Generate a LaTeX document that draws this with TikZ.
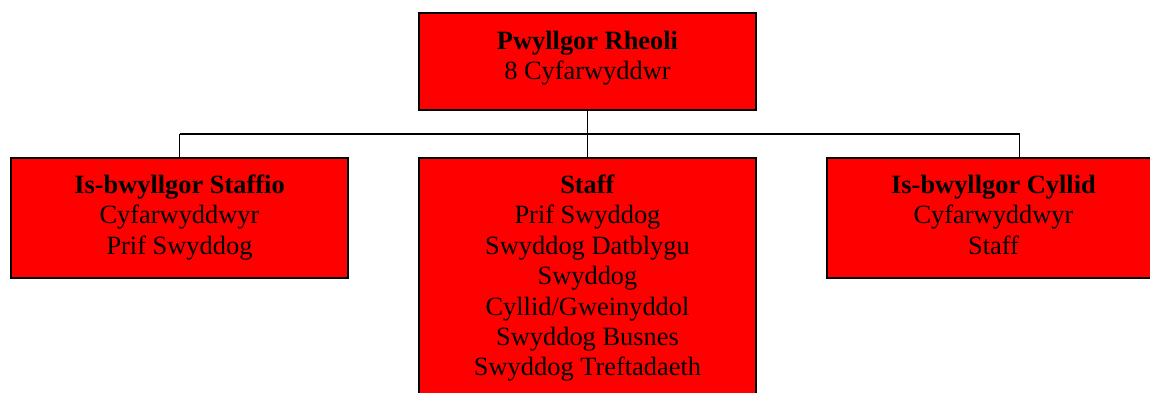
\documentclass[tikz,border=0pt]{standalone}
\usepackage{fontspec}
\setmainfont{Liberation Serif}
\begin{document}
\begin{tikzpicture}[x=1pt,y=-1pt,
  box/.style={draw=black,fill=red,line width=2pt,rectangle,inner sep=0pt,minimum width=#1},
  box/.default=337pt,
  lbl/.style={anchor=base,align=center,inner sep=0pt,font=\fontsize{26.4}{30.4}\selectfont},
  conn/.style={draw=black,line width=1.8pt}]
\useasboundingbox (0,0) rectangle (1150,392);
\clip (0,0) rectangle (1150,392);
\node[box,minimum height=97pt] (top) at (587.5,61.5) {};
\node[box,minimum height=120pt] (left) at (179.5,218) {};
\node[box,minimum height=262pt] (mid) at (587.5,289) {};
\node[box,minimum height=120pt] (right) at (995.5,218) {};
\coordinate (busL) at (179.5,134);
\coordinate (busR) at (1019.5,134);
\coordinate (busM) at (587.5,134);
\draw[conn] (top.south) -- (busM);
\draw[conn] (busL) -- (busR);
\draw[conn] (busL) -- (left.north);
\draw[conn] (busM) -- (mid.north);
\draw[conn] (busR) -- (busR |- right.north);
\node[lbl] (ttop) at (587.5,79.4) {\textbf{Pwyllgor Rheoli}\\8 Cyfarwyddwr};
\node[lbl] (tleft) at (179.5,254.3) {\textbf{Is-bwyllgor Staffio}\\Cyfarwyddwyr\\Prif Swyddog};
\node[lbl] (tmid) at (587.5,375.9) {\textbf{Staff}\\Prif Swyddog\\Swyddog Datblygu\\Swyddog\\Cyllid/Gweinyddol\\Swyddog Busnes\\Swyddog Treftadaeth};
\node[lbl] (tright) at (993.5,254.3) {\textbf{Is-bwyllgor Cyllid}\\Cyfarwyddwyr\\Staff};
\end{tikzpicture}
\end{document}
